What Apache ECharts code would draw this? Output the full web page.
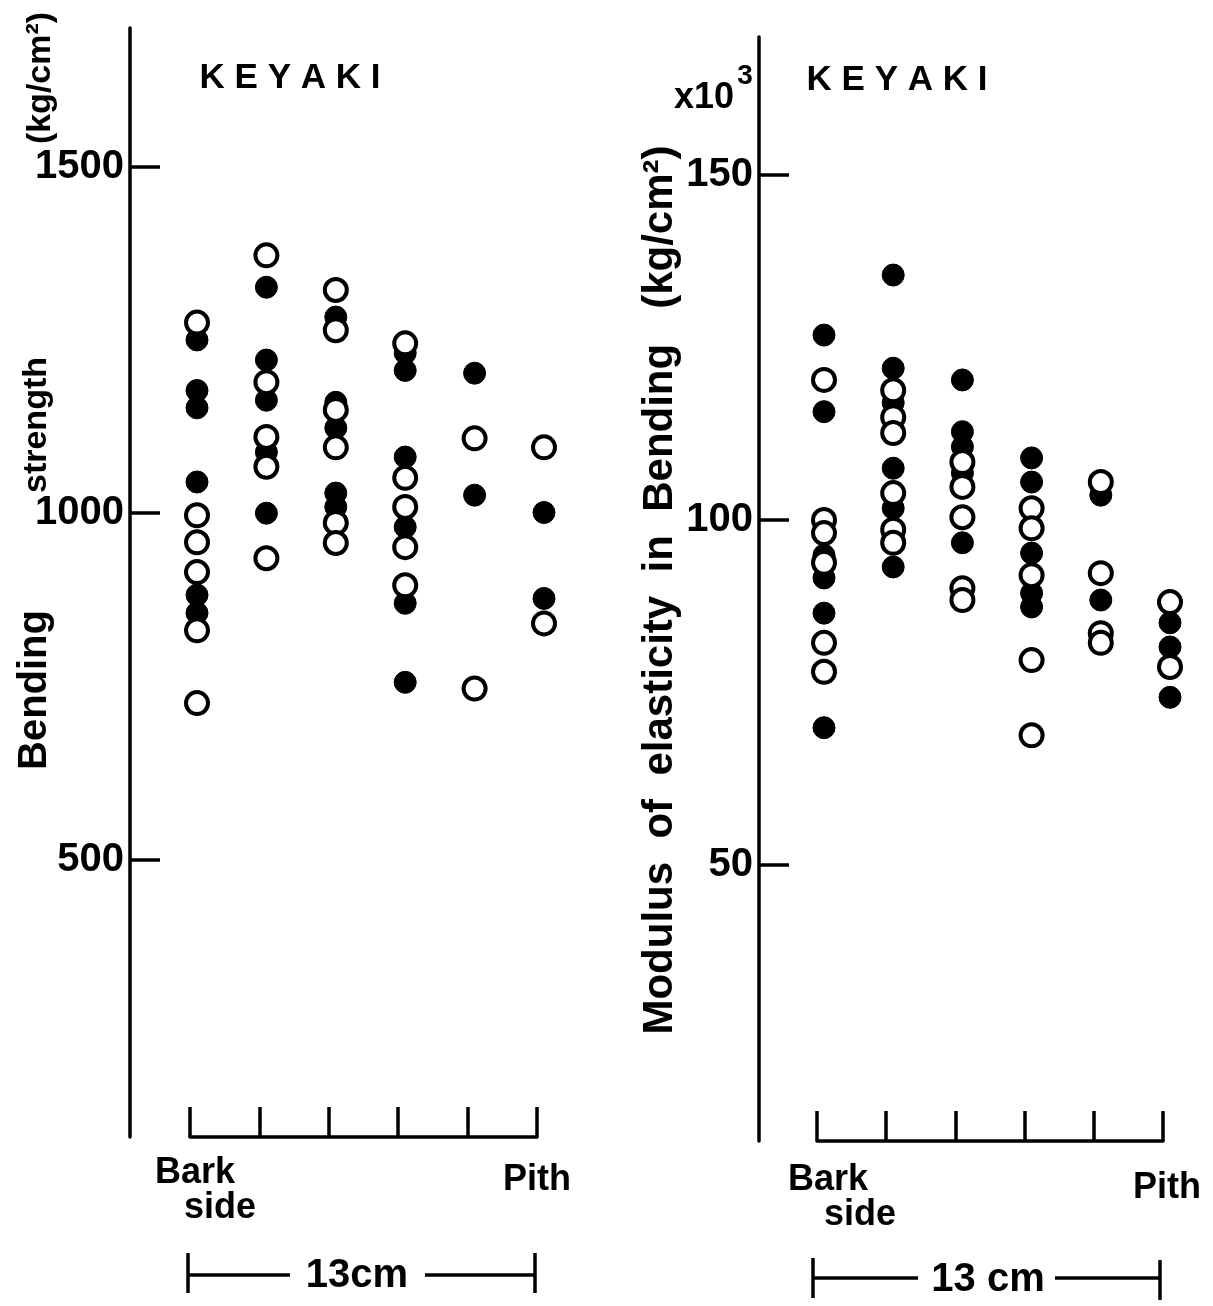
<!DOCTYPE html>
<html>
<head>
<meta charset="utf-8">
<script src="https://cdn.jsdelivr.net/npm/echarts@6/dist/echarts.min.js"></script>
<style>html,body{margin:0;padding:0;background:#fff}#c{width:1213px;height:1306px}</style>
</head>
<body>
<div id="c"></div>
<script>
// Column positions from bark side (1) to pith (6)
const columns = [1, 2, 3, 4, 5, 6];
const positionLabels = ['Bark side', 'Pith'];

// Bending strength (kg/cm2), per column
const strengthFilled = [
  [1250, 1177, 1152, 1045, 882, 856],
  [1326, 1221, 1163, 1088, 1000],
  [1283, 1160, 1123, 1029, 1009],
  [1231, 1206, 1081, 980, 870, 756],
  [1202, 1026],
  [1001, 877]
];
const strengthOpen = [
  [1275, 997, 958, 915, 831, 726],
  [1372, 1189, 1110, 1067, 935],
  [1322, 1264, 1149, 1095, 986, 957],
  [1245, 1051, 1009, 951, 896],
  [1108, 747],
  [1095, 841]
];
const strengthTicks = [500, 1000, 1500];

// Modulus of elasticity in bending (x10^3 kg/cm2), per column
const moeFilled = [
  [126.8, 115.7, 94.9, 91.6, 86.5, 69.9],
  [135.5, 122.0, 117.0, 107.5, 101.7, 93.2],
  [120.3, 112.8, 110.6, 106.8, 96.7],
  [109.0, 105.5, 95.2, 89.4, 87.4],
  [103.6, 88.4],
  [85.1, 81.6, 74.3]
];
const moeOpen = [
  [120.3, 100.0, 98.1, 93.8, 82.2, 78.0],
  [118.8, 114.9, 112.6, 103.9, 98.6, 96.7],
  [108.4, 104.8, 100.4, 90.1, 88.4],
  [101.7, 98.8, 92.0, 79.7, 68.8],
  [105.5, 92.3, 83.6, 82.2],
  [88.1, 78.7]
];
const moeTicks = [50, 100, 150];

function pairs(arr) {
  return columns.flatMap((c, i) => arr[i].map(v => [c, v]));
}

const F = '"Liberation Sans", Arial, sans-serif';
const chart = echarts.init(document.getElementById('c'), null, {renderer: 'canvas'});

function xAx(gi) {
  return {
    type: 'value', gridIndex: gi, min: 1, max: 6, interval: 1,
    axisLine: {show: true, lineStyle: {color: '#000', width: 3.5}},
    axisTick: {show: true, inside: true, length: 30, lineStyle: {color: '#000', width: 3.5}},
    axisLabel: {show: false}, splitLine: {show: false}
  };
}
function yAx(gi, min, max, ticks, offset) {
  return {
    type: 'value', gridIndex: gi, min: min, max: max, offset: offset,
    axisLine: {show: true, lineStyle: {color: '#000', width: 3.5}},
    axisTick: {show: true, inside: true, length: 30, customValues: ticks, lineStyle: {color: '#000', width: 3.5}},
    axisLabel: {show: true, customValues: ticks, margin: 6, color: '#000', fontSize: 40, fontWeight: 'bold', fontFamily: F,
                formatter: v => String(v)},
    splitLine: {show: false}
  };
}
function ser(gi, data, filled) {
  return {
    type: 'scatter', xAxisIndex: gi, yAxisIndex: gi, data: data,
    symbol: 'circle', symbolSize: 22, symbolOffset: [7, 0],
    z: filled ? 2 : 3,
    itemStyle: filled ? {color: '#000', borderColor: '#000', borderWidth: 1, opacity: 1}
                      : {color: '#fff', borderColor: '#000', borderWidth: 4, opacity: 1},
    emphasis: {disabled: true}
  };
}
function txt(x, y, s, size, rot, extra) {
  return Object.assign({
    type: 'text', x: x, y: y, rotation: rot || 0,
    style: {text: s, font: 'bold ' + size + 'px ' + F, fill: '#000', textAlign: 'center', textVerticalAlign: 'middle'}
  }, extra || {});
}
function line(x1, y1, x2, y2) {
  return {type: 'line', shape: {x1: x1, y1: y1, x2: x2, y2: y2}, style: {stroke: '#000', lineWidth: 3.5}};
}
const R = Math.PI / 2;
const [bark, pith] = [positionLabels[0].split(' '), positionLabels[1]];

chart.setOption({
  animation: false,
  backgroundColor: '#fff',
  grid: [
    {left: 190, width: 347, top: 28, height: 1109},
    {left: 817, width: 346, top: 37, height: 1104}
  ],
  xAxis: [xAx(0), xAx(1)],
  yAxis: [yAx(0, 100, 1700, strengthTicks, 60), yAx(1, 10, 170, moeTicks, 58)],
  series: [
    ser(0, pairs(strengthFilled), true),
    ser(0, pairs(strengthOpen), false),
    ser(1, pairs(moeFilled), true),
    ser(1, pairs(moeOpen), false)
  ],
  graphic: [
    txt(290, 78, 'K E Y A K I', 35),
    txt(897, 80, 'K E Y A K I', 35),
    txt(35, 690, 'Bending', 40, R),
    txt(37, 425, 'strength', 34, R),
    txt(41, 78, '(kg/cm²)', 34, R),
    txt(660, 590, 'Modulus  of  elasticity  in  Bending   (kg/cm²)', 42, R),
    txt(704, 98, 'x10', 36),
    txt(745, 76, '3', 28),
    txt(195, 1173, bark[0], 36),
    txt(220, 1208, bark[1], 36),
    txt(537, 1180, pith, 36),
    txt(828, 1180, bark[0], 36),
    txt(860, 1215, bark[1], 36),
    txt(1167, 1188, pith, 36),
    line(188, 1253, 188, 1293), line(188, 1275, 290, 1275),
    txt(357, 1276, '13cm', 40),
    line(425, 1275, 535, 1275), line(535, 1253, 535, 1293),
    line(813, 1258, 813, 1298), line(813, 1278, 918, 1278),
    txt(988, 1280, '13 cm', 40),
    line(1055, 1278, 1160, 1278), line(1160, 1260, 1160, 1300)
  ]
});
</script>
</body>
</html>
